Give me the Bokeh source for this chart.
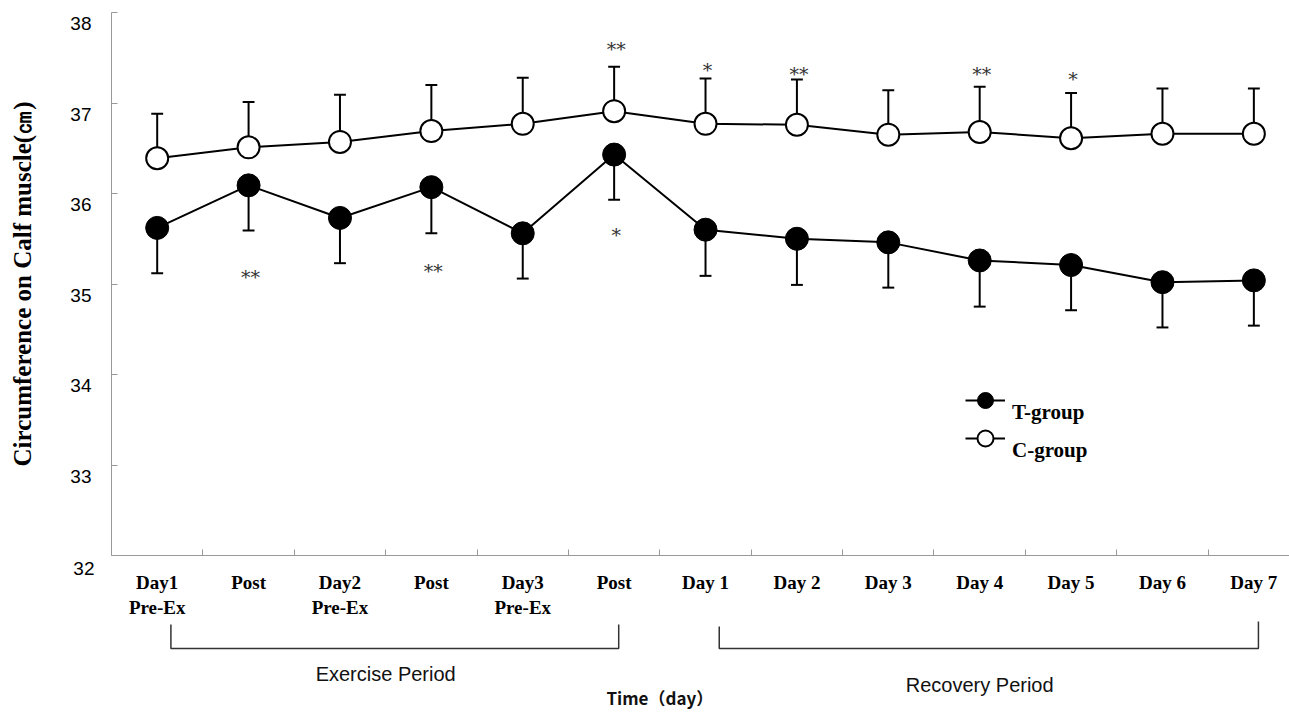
from bokeh.plotting import figure
from bokeh.layouts import column
from bokeh.models import FixedTicker, Range1d, Legend, LegendItem, ColumnDataSource, LinearAxis
from bokeh.core.properties import value
from bokeh.embed import file_html
from bokeh.resources import INLINE

# ---------------- data ----------------
categories = ["Day1\nPre-Ex", "Post", "Day2\nPre-Ex", "Post", "Day3\nPre-Ex", "Post",
              "Day 1", "Day 2", "Day 3", "Day 4", "Day 5", "Day 6", "Day 7"]
t_mean = [35.62, 36.09, 35.73, 36.07, 35.56, 36.43, 35.60, 35.50, 35.46, 35.26, 35.21, 35.02, 35.04]
t_sd = [0.50, 0.50, 0.50, 0.51, 0.50, 0.50, 0.51, 0.51, 0.50, 0.51, 0.50, 0.50, 0.50]
c_mean = [36.39, 36.51, 36.57, 36.69, 36.77, 36.91, 36.77, 36.76, 36.65, 36.68, 36.61, 36.66, 36.66]
c_sd = [0.49, 0.50, 0.52, 0.51, 0.51, 0.49, 0.50, 0.50, 0.49, 0.50, 0.50, 0.50, 0.50]

sig_index = [1, 3, 5, 5, 6, 7, 9, 10]
sig_text = ["**", "**", "*", "**", "*", "**", "**", "*"]
sig_y = [35.12, 35.19, 35.59, 37.64, 37.41, 37.37, 37.37, 37.31]

periods = ["Exercise Period", "Recovery Period"]
period_start = [0, 6]
period_end = [5, 12]

y_ticks = [32, 33, 34, 35, 36, 37, 38]
y_title = "Circumference on Calf muscle(㎝)"
x_title = "Time（day）"
series_names = ["T-group", "C-group"]

# ---------------- derived ----------------
n = len(categories)
xs = list(range(n))
cap = 0.065
src = ColumnDataSource(dict(
    x=xs, t=t_mean, c=c_mean,
    t_lo=[m - s for m, s in zip(t_mean, t_sd)],
    c_hi=[m + s for m, s in zip(c_mean, c_sd)],
    xl=[x - cap for x in xs], xr=[x + cap for x in xs],
))

W = 1289
LEFT = 111
FRAME_H = 543
y0, y1 = y_ticks[0], y_ticks[-1]
xr = Range1d(-0.5, 12.39)

p = figure(width=W, height=620, x_range=xr, y_range=Range1d(y0, y1),
           output_backend="svg", toolbar_location=None,
           min_border_left=LEFT, min_border_right=0, min_border_top=12, min_border_bottom=65)
p.grid.visible = False
p.outline_line_color = None

# error bars (drawn first, under markers)
p.segment(x0="x", y0="t", x1="x", y1="t_lo", source=src, line_color="black", line_width=2)
p.segment(x0="xl", y0="t_lo", x1="xr", y1="t_lo", source=src, line_color="black", line_width=2)
p.segment(x0="x", y0="c", x1="x", y1="c_hi", source=src, line_color="black", line_width=2)
p.segment(x0="xl", y0="c_hi", x1="xr", y1="c_hi", source=src, line_color="black", line_width=2)

tl = p.line("x", "t", source=src, line_color="black", line_width=2)
cl = p.line("x", "c", source=src, line_color="black", line_width=2)
ts = p.scatter("x", "t", source=src, size=23, fill_color="black", line_color="black", line_width=1)
cs = p.scatter("x", "c", source=src, size=22, fill_color="white", line_color="black", line_width=2)

sig_src = ColumnDataSource(dict(x=sig_index, y=sig_y, text=sig_text))
p.text("x", "y", text="text", source=sig_src, text_align="center", text_baseline="middle",
       text_font=value("DejaVu Serif"), text_font_size="19px", text_color="#333333",
       x_offset=2, y_offset=4)

# x axis: labels at category centres, small inward ticks at category boundaries
xa = p.xaxis[0]
xa.ticker = FixedTicker(ticks=xs, minor_ticks=[x + 0.5 for x in xs[:-1]])
xa.major_label_overrides = {i: c for i, c in zip(xs, categories)}
xa.major_tick_line_color = None
xa.minor_tick_in = 6
xa.minor_tick_out = 0
xa.minor_tick_line_color = "#999999"
xa.axis_line_color = "#999999"
xa.major_label_text_font = "Liberation Serif"
xa.major_label_text_font_style = "bold"
xa.major_label_text_font_size = "19px"
xa.major_label_text_color = "black"
xa.major_label_standoff = 10

# y labels sit ~11px below their ticks in the reference.
LBL_FONT = "19px"
LBL_STANDOFF = 17
LBL_W = 21  # approx width of a two-digit label at 19px

# main y axis: line, inward ticks, and the bottom label (pushed down by a leading blank line)
ya = p.yaxis[0]
ya.ticker = FixedTicker(ticks=y_ticks)
ya.major_label_overrides = {t: ("\n" + str(t) if t == y0 else "") for t in y_ticks}
ya.major_label_standoff = LBL_STANDOFF
ya.major_label_text_font = "Liberation Sans"
ya.major_label_text_font_size = LBL_FONT
ya.major_label_text_color = "black"
ya.major_tick_in = 6
ya.major_tick_out = 0
ya.minor_tick_line_color = None
ya.major_tick_line_color = "#999999"
ya.axis_line_color = "#999999"

# other labels: a label-only axis on a range shifted by 11px
shift = 11 * (y1 - y0) / FRAME_H
p.extra_y_ranges = {"lab": Range1d(y0 + shift, y1 + shift)}
lab = LinearAxis(y_range_name="lab", ticker=FixedTicker(ticks=y_ticks[1:]),
                 axis_line_color=None, major_tick_line_color=None, minor_tick_line_color=None,
                 major_tick_in=0, major_tick_out=0,
                 major_label_text_font="Liberation Sans", major_label_text_font_size=LBL_FONT,
                 major_label_text_color="black", major_label_standoff=-LBL_W,
                 axis_label=y_title, axis_label_text_font="Liberation Serif",
                 axis_label_text_font_style="bold", axis_label_text_font_size="25px",
                 axis_label_text_color="black", axis_label_standoff=31)
p.add_layout(lab, "left")

legend_style = dict(padding=0, margin=0, spacing=0, glyph_width=40, glyph_height=50,
                    label_standoff=7, label_text_font="Liberation Serif",
                    label_text_font_style="bold", label_text_font_size="21px",
                    label_text_color="black",
                    border_line_color=None, background_fill_alpha=0)
leg_t = Legend(items=[LegendItem(label="\n" + series_names[0], renderers=[tl, ts])],
               location=(854, 130), **legend_style)
leg_c = Legend(items=[LegendItem(label="\n" + series_names[1], renderers=[cl, cs])],
               location=(854, 92), **legend_style)
p.add_layout(leg_t)
p.add_layout(leg_c)

# ---------------- bracket panel ----------------
p2 = figure(width=W, height=92, x_range=xr, y_range=Range1d(0, 92),
            output_backend="svg", toolbar_location=None,
            x_axis_location=None, y_axis_location=None,
            min_border_left=LEFT, min_border_right=0, min_border_top=0, min_border_bottom=0)
p2.grid.visible = False
p2.outline_line_color = None

b_xs = [[s + 0.15, s + 0.15, e + 0.05, e + 0.05] for s, e in zip(period_start, period_end)]
b_ys = [[88, 64, 64, 88], [86, 64, 64, 91]]
p2.multi_line(b_xs, b_ys, line_color="#333333", line_width=1.5)

lab_src = ColumnDataSource(dict(x=[(s + e) / 2 for s, e in zip(period_start, period_end)],
                                y=[39, 28], text=periods))
p2.text("x", "y", text="text", source=lab_src, text_align="center", text_baseline="middle",
        text_font=value("Liberation Sans"), text_font_size="20px", text_color="#111111")
p2.text(x=[5.5], y=[15], text=[x_title], text_align="center", text_baseline="middle",
        text_font=value("Noto Sans CJK JP"), text_font_style="bold", text_font_size="17px",
        text_color="#111111")

layout = column(p, p2, spacing=0)
open("out.html", "w").write(file_html(layout, INLINE))
